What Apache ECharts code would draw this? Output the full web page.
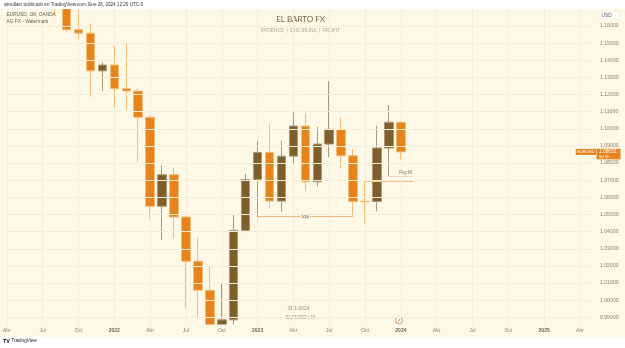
<!DOCTYPE html>
<html>
<head>
<meta charset="utf-8">
<title>EURUSD 1M</title>
<style>
    html, body { margin: 0; padding: 0; background: #ffffff; }
    #chart-eurusd { width: 625px; height: 348px; }
</style>
<script src="https://cdn.jsdelivr.net/npm/echarts@6.0.0/dist/echarts.min.js"></script>
</head>
<body>
<div id="chart-eurusd"></div>
<script>
// monthly categories (Apr 2021 .. May 2025)
const months = [
    '2021-04', '2021-05', '2021-06', '2021-07', '2021-08', '2021-09', '2021-10', '2021-11', '2021-12',
    '2022-01', '2022-02', '2022-03', '2022-04', '2022-05', '2022-06', '2022-07', '2022-08', '2022-09',
    '2022-10', '2022-11', '2022-12',
    '2023-01', '2023-02', '2023-03', '2023-04', '2023-05', '2023-06', '2023-07', '2023-08', '2023-09',
    '2023-10', '2023-11', '2023-12',
    '2024-01', '2024-02', '2024-03', '2024-04', '2024-05', '2024-06', '2024-07', '2024-08', '2024-09',
    '2024-10', '2024-11', '2024-12',
    '2025-01', '2025-02', '2025-03', '2025-04', '2025-05'
];

// EURUSD monthly candles, Apr 2021 .. Jan 2024
const opens = [
    1.1730, 1.2020, 1.2228, 1.1858, 1.1869, 1.1807, 1.1578, 1.1558, 1.1338,
    1.1372, 1.1234, 1.1220, 1.1067, 1.0548, 1.0732, 1.0485, 1.0227, 1.0058,
    0.9803, 0.9885, 1.0407,
    1.0704, 1.0862, 1.0578, 1.0840, 1.1016, 1.0691, 1.0911, 1.0997, 1.0843,
    1.0577, 1.0576, 1.0888,
    1.1038
];
const highs = [
    1.2080, 1.2266, 1.2254, 1.1909, 1.1900, 1.1909, 1.1692, 1.1616, 1.1388,
    1.1483, 1.1495, 1.1236, 1.1080, 1.0788, 1.0775, 1.0488, 1.0368, 1.0199,
    1.0094, 1.0497, 1.0736,
    1.0930, 1.1032, 1.0931, 1.1096, 1.1091, 1.1011, 1.1278, 1.1066, 1.0882,
    1.0695, 1.1017, 1.1139,
    1.1046
];
const lows = [
    1.1704, 1.1986, 1.1848, 1.1751, 1.1664, 1.1563, 1.1524, 1.1186, 1.1222,
    1.1122, 1.1108, 1.0806, 1.0472, 1.0350, 1.0360, 0.9954, 0.9900, 0.9536,
    0.9632, 0.9730, 1.0396,
    1.0484, 1.0535, 1.0516, 1.0792, 1.0637, 1.0664, 1.0836, 1.0768, 1.0487,
    1.0448, 1.0518, 1.0723,
    1.0820
];
const closes = [
    1.2020, 1.2228, 1.1858, 1.1869, 1.1807, 1.1578, 1.1558, 1.1338, 1.1372,
    1.1234, 1.1220, 1.1067, 1.0548, 1.0732, 1.0485, 1.0227, 1.0058, 0.9803,
    0.9885, 1.0407, 1.0704,
    1.0862, 1.0578, 1.0840, 1.1016, 1.0691, 1.0911, 1.0997, 1.0843, 1.0575,
    1.0574, 1.0888, 1.1038,
    1.0865
];

// price scale labels
const priceTicks = [
    0.99, 1.00, 1.01, 1.02, 1.03, 1.04, 1.05, 1.06, 1.07, 1.08, 1.09,
    1.10, 1.11, 1.12, 1.13, 1.14, 1.15, 1.16
];

// time axis label texts by month (January shows the year)
const monthLabels = { '01': 'year', '04': 'Abr', '07': 'Jul', '10': 'Oct' };

// drawn levels
const liquidityLevel = 1.0487;   // "$$$" line
const fvgLow = 1.0695;           // Oct 2023 high
const fvgHigh = 1.0723;          // Dec 2023 low

const lastClose = closes[closes.length - 1];

const BEIGE = '#FEF8E7';
const GRID = '#F5EDDA';
const BULL = '#7F5F2B';
const BEAR = '#E8821B';
const AXIS_TXT = '#8C806C';
const FONT = 'Liberation Sans';


// entry
(function () {
    let candles = opens.map(function (o, i) {
        return [o, closes[i], lows[i], highs[i]];
    });

    function isQuarter(idx, value) {
        return monthLabels[value.slice(5)] !== undefined;
    }

    let option = {
        backgroundColor: '#ffffff',
        animation: false,
        textStyle: { fontFamily: FONT },
        grid: { left: 2.4, right: 33.1, top: 9, bottom: 23.5 },
        graphic: baseGraphics(),
        xAxis: [
            {
                // grid lines under the candles
                type: 'category',
                data: months,
                boundaryGap: false,
                axisLine: { show: false },
                axisTick: { show: false },
                axisLabel: { show: false },
                splitLine: {
                    show: true,
                    interval: isQuarter,
                    lineStyle: { color: GRID, width: 1 }
                }
            },
            {
                // month labels, above the strip that hides overflowing wicks
                type: 'category',
                data: months,
                boundaryGap: false,
                position: 'bottom',
                z: 10,
                axisLine: { show: false },
                axisTick: { show: false },
                splitLine: { show: false },
                axisLabel: {
                    interval: isQuarter,
                    formatter: function (value) {
                        let m = monthLabels[value.slice(5)];
                        return m === 'year' ? '{y|' + value.slice(0, 4) + '}' : m;
                    },
                    margin: 3.5,
                    fontSize: 5,
                    color: AXIS_TXT,
                    rich: { y: { fontSize: 5, fontWeight: 'bold', color: '#6E6250' } }
                }
            }
        ],
        yAxis: {
            type: 'value',
            position: 'right',
            min: 0.9858,
            max: 1.1699,
            z: 10,
            axisLine: { show: false },
            axisTick: { show: false, customValues: priceTicks },
            axisLabel: {
                customValues: priceTicks,
                formatter: function (v) { return v.toFixed(5); },
                margin: 8,
                fontSize: 5.2,
                color: AXIS_TXT
            },
            splitLine: { show: true, lineStyle: { color: GRID, width: 1 } }
        },
        series: [
            {
                type: 'candlestick',
                data: candles,
                xAxisIndex: 0,
                barWidth: 9,
                itemStyle: {
                    color: BULL,
                    color0: BEAR,
                    borderColor: '#A99878',
                    borderColor0: '#F4BC75',
                    borderWidth: 1
                },
                markLine: {
                    silent: true,
                    symbol: ['none', 'none'],
                    animation: false,
                    data: [
                        {
                            yAxis: lastClose,
                            lineStyle: { color: '#F1C88E', type: [1, 2], width: 1 },
                            label: { show: false }
                        },
                        [
                            {
                                coord: ['2023-01', liquidityLevel],
                                lineStyle: { color: '#EDB878', type: 'solid', width: 1 },
                                label: {
                                    show: true, position: 'middle', formatter: '$$$',
                                    distance: 0, verticalAlign: 'middle',
                                    fontSize: 4.5, color: '#7A6E5C',
                                    backgroundColor: BEIGE, padding: [0, 1]
                                }
                            },
                            { coord: ['2023-09', liquidityLevel] }
                        ],
                        [
                            {
                                coord: ['2023-10', fvgLow],
                                lineStyle: { color: '#F5C784', type: 'solid', width: 1 },
                                label: { show: false }
                            },
                            { coord: ['2024-02', fvgLow] }
                        ],
                        [
                            {
                                coord: ['2023-12', fvgHigh],
                                lineStyle: { color: '#F0B462', type: [1, 1], width: 1 },
                                label: {
                                    show: true, position: 'insideEndTop', formatter: 'Fvg M',
                                    distance: 1, fontSize: 4.5, color: '#7A6E5C'
                                }
                            },
                            { coord: ['2024-02', fvgHigh] }
                        ]
                    ]
                }
            }
        ]
    };

    let chart = echarts.init(document.getElementById('chart-eurusd'));
    chart.setOption(option);

    // price tags follow the last close on the price scale
    let py = chart.convertToPixel({ yAxisIndex: 0 }, lastClose);
    option.graphic = baseGraphics().concat(priceTags(py));
    chart.setOption(option, true);
})();

// background, cover strips, captions, watermark
function baseGraphics() {
    return [
        { type: 'rect', z: -10, silent: true, shape: { x: 0, y: 9, width: 625, height: 328 }, style: { fill: BEIGE } },
        // strips that hide candle parts outside the plot
        { type: 'rect', z: 5, silent: true, shape: { x: 0, y: 0, width: 625, height: 9 }, style: { fill: '#FFFFFF' } },
        { type: 'rect', z: 5, silent: true, shape: { x: 0, y: 324.5, width: 625, height: 12.5 }, style: { fill: BEIGE } },
        { type: 'rect', z: 5, silent: true, shape: { x: 0, y: 337, width: 625, height: 11 }, style: { fill: '#FFFFFF' } },
        {
            type: 'text', z: 6, left: 4, top: 2,
            style: { text: 'wiredlain publicado en TradingView.com, Ene 26, 2024 12:20 UTC-5', fontSize: 4.6, fill: '#333333', fontFamily: FONT }
        },
        {
            type: 'text', z: 6, left: 6.5, top: 12.5,
            style: { text: 'EURUSD, 1M, OANDA', fontSize: 4.8, fill: '#6A6050', fontFamily: FONT }
        },
        {
            type: 'text', z: 6, left: 6.5, top: 19.2,
            style: { text: 'AG FX - Watermark', fontSize: 4.8, fill: '#6A6050', fontFamily: FONT }
        },
        {
            type: 'text', x: 300.5, y: 19.5,
            style: { text: 'EL BARTO FX', fontSize: 8, fill: '#7A6448', fontFamily: 'Lato', align: 'center', verticalAlign: 'middle' }
        },
        {
            type: 'text', x: 300.5, y: 30,
            style: { text: 'PATIENCE  |  DISCIPLINE  |  PROFIT', fontSize: 5, fill: '#B3A590', fontFamily: 'Lato', align: 'center', verticalAlign: 'middle' }
        },
        {
            type: 'text', x: 298.5, y: 309,
            style: { text: '31/1/2024', fontSize: 5, fill: '#9E8F77', fontFamily: FONT, align: 'center', verticalAlign: 'middle' }
        },
        {
            type: 'text', x: 300.5, y: 317.5,
            style: { text: 'EURUSD | M', fontSize: 5, fill: '#9E8F77', fontFamily: FONT, align: 'center', verticalAlign: 'middle' }
        },
        {
            type: 'circle', z: 6, shape: { cx: 399, cy: 320.5, r: 3.4 },
            style: { fill: '#FFFFFF', stroke: '#8C8170', lineWidth: 0.8 }
        },
        {
            type: 'line', z: 6, shape: { x1: 398.2, y1: 322, x2: 399.8, y2: 319 },
            style: { stroke: BEAR, lineWidth: 1 }
        },
        {
            type: 'rect', z: 6, shape: { x: 598.5, y: 12, width: 21, height: 7 },
            style: { fill: '#FFFFFF', stroke: '#E6E0D4', lineWidth: 0.5 }
        },
        {
            type: 'text', z: 6, left: 601.5, top: 13.3,
            style: { text: 'USD', fontSize: 4.8, fill: '#555555', fontFamily: FONT }
        },
        {
            type: 'text', z: 6, left: 3, top: 338,
            style: { text: '{t|TV} TradingView', fontSize: 4.6, fill: '#222222', fontFamily: FONT, rich: { t: { fontSize: 5.5, fontWeight: 'bold', fill: '#111111' } } }
        }
    ];
}

// EURUSD and last price tags on the price scale
function priceTags(py) {
    return [
        { type: 'rect', z: 6, shape: { x: 575.7, y: py - 3, width: 20.3, height: 6 }, style: { fill: BEAR } },
        {
            type: 'text', z: 6, x: 585.8, y: py,
            style: { text: 'EURUSD', fontSize: 4.2, fill: '#FFFFFF', fontFamily: FONT, align: 'center', verticalAlign: 'middle' }
        },
        { type: 'rect', z: 6, shape: { x: 596.5, y: py - 3.2, width: 24, height: 10.6 }, style: { fill: BEAR } },
        {
            type: 'text', z: 6, x: 599, y: py,
            style: { text: lastClose.toFixed(4) + '2', fontSize: 4.8, fill: '#FFFFFF', fontFamily: FONT, verticalAlign: 'middle' }
        },
        {
            type: 'text', z: 6, x: 599, y: py + 4.7,
            style: { text: '5d 5h', fontSize: 4.2, fill: '#FFFFFF', fontFamily: FONT, verticalAlign: 'middle' }
        }
    ];
}
</script>
</body>
</html>
